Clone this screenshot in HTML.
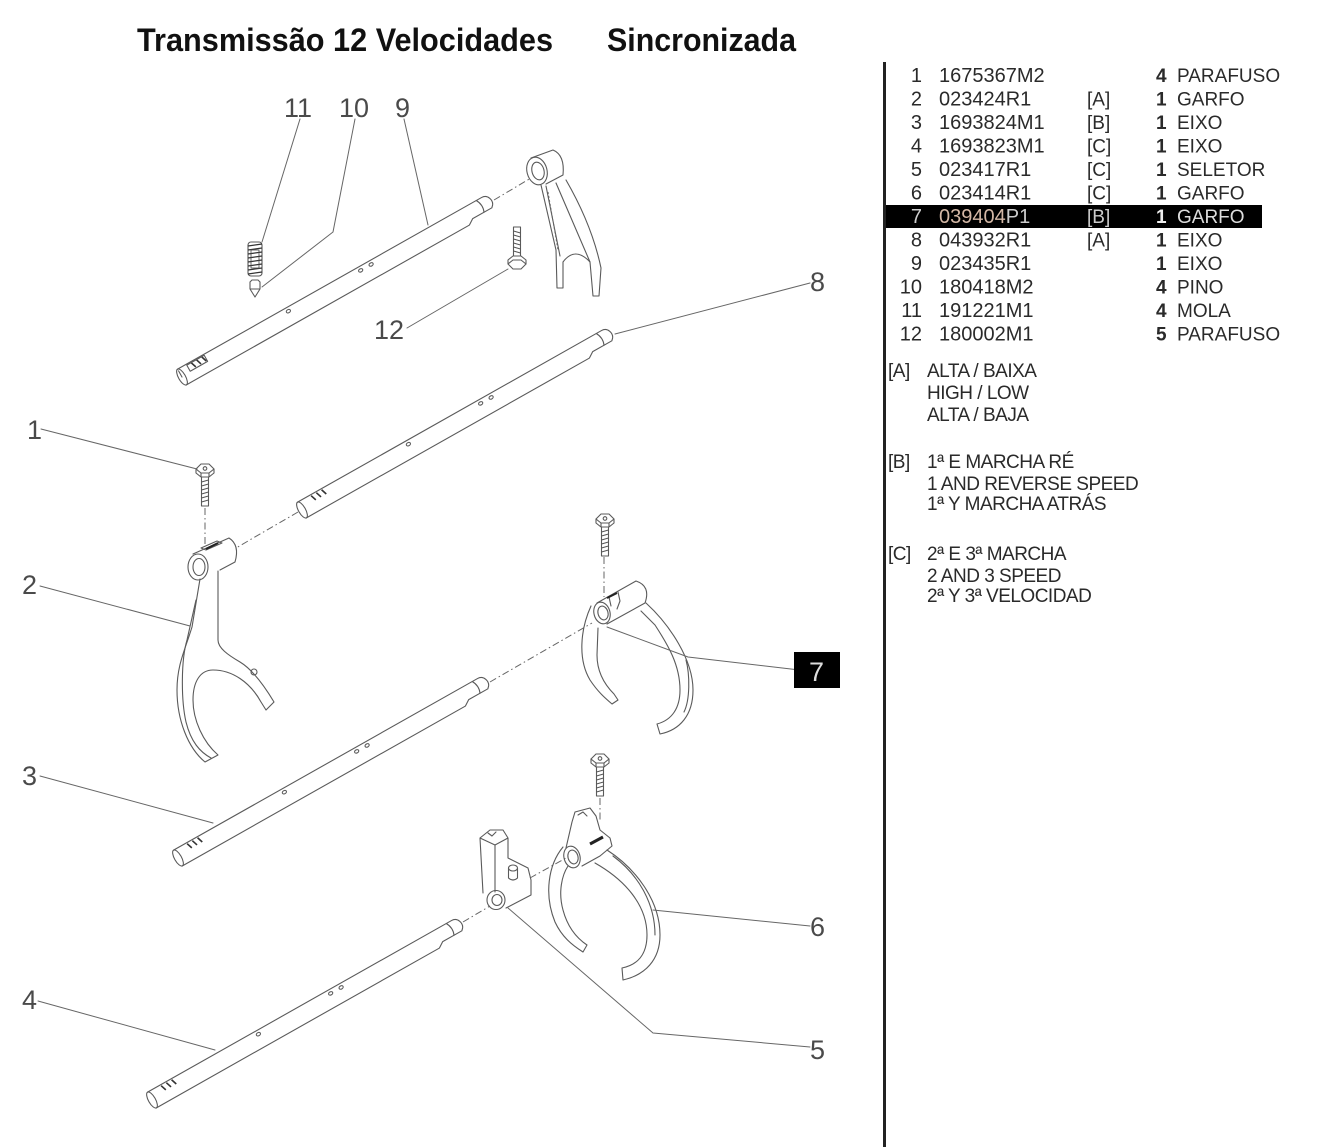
<!DOCTYPE html>
<html><head><meta charset="utf-8">
<style>
html,body{margin:0;padding:0;background:#fff;}
svg{display:block;}
.ln{fill:none;stroke:#5a5a5a;stroke-width:1.1;stroke-linejoin:round;stroke-linecap:round;}
.dd{fill:none;stroke:#666;stroke-width:1;stroke-dasharray:7,3,1.5,3;}
.lbl{font-family:"Liberation Sans",sans-serif;font-size:27px;fill:#4a4a4a;}
.pl{font-family:"Liberation Sans",sans-serif;font-size:20px;fill:#2a2a2a;}
.pd{font-family:"Liberation Sans",sans-serif;font-size:19px;fill:#2a2a2a;}
.lg{font-family:"Liberation Sans",sans-serif;font-size:19px;fill:#2a2a2a;letter-spacing:-0.5px;}
</style></head>
<body>
<svg width="1326" height="1147" viewBox="0 0 1326 1147" xmlns="http://www.w3.org/2000/svg">
<defs>
 <g id="shaft">
  <ellipse cx="0" cy="0" rx="3.5" ry="9" class="ln"/>
  <path class="ln" d="M0,-9 L349,-9 C356,-9 358,-1 355,3 L353,5 L331,5 L325,9 L0,9"/>
  <path class="ln" d="M343,-9 Q347,-2 344,5"/>
  <ellipse cx="125" cy="-5" rx="2.2" ry="1.6" class="ln"/>
  <ellipse cx="208" cy="-5" rx="2.2" ry="1.6" class="ln"/>
  <ellipse cx="220" cy="-5" rx="2.2" ry="1.6" class="ln"/>
  <path d="M15,-8 L17,-2 M21,-8 L23,-2 M27,-8 L29,-2" stroke="#333" stroke-width="1.6" fill="none"/>
 </g>
 <g id="screw">
  <path class="ln" d="M-9,-1 L-4,-6 L4,-6 L9,-1 L4,3 L-4,3 Z"/>
  <path class="ln" d="M-9,-1 L-9,3 L-4,7 L4,7 L9,3 L9,-1 M-4,3 L-4,7 M4,3 L4,7"/>
  <circle cx="0" cy="-1.5" r="1.8" class="ln"/>
  <path class="ln" d="M-3.5,7 L-3.5,36 L3.5,36 L3.5,7"/>
  <path d="M-3.5,12 L3.5,10 M-3.5,16 L3.5,14 M-3.5,20 L3.5,18 M-3.5,24 L3.5,22 M-3.5,28 L3.5,26 M-3.5,32 L3.5,30" stroke="#555" stroke-width="1" fill="none"/>
 </g>
</defs>

<!-- Title -->
<text x="137" y="51" font-family="'Liberation Sans Narrow','Liberation Sans',sans-serif" font-weight="bold" font-size="32" fill="#111" textLength="416" lengthAdjust="spacingAndGlyphs">Transmissão 12 Velocidades</text>
<text x="607" y="51" font-family="'Liberation Sans Narrow','Liberation Sans',sans-serif" font-weight="bold" font-size="32" fill="#111" textLength="189" lengthAdjust="spacingAndGlyphs">Sincronizada</text>

<!-- Divider -->
<rect x="883" y="62" width="3" height="1085" fill="#222"/>

<!-- Highlight row 7 -->
<rect x="886" y="205" width="376" height="23" fill="#000"/>

<!-- Parts list -->
<g class="pl">
 <text x="922" y="82" text-anchor="end">1</text><text x="939" y="82">1675367M2</text>
 <text x="922" y="105.5" text-anchor="end">2</text><text x="939" y="105.5">023424R1</text>
 <text x="922" y="129" text-anchor="end">3</text><text x="939" y="129">1693824M1</text>
 <text x="922" y="152.5" text-anchor="end">4</text><text x="939" y="152.5">1693823M1</text>
 <text x="922" y="176" text-anchor="end">5</text><text x="939" y="176">023417R1</text>
 <text x="922" y="199.5" text-anchor="end">6</text><text x="939" y="199.5">023414R1</text>
 <text x="922" y="223" text-anchor="end" fill="#ccc">7</text><text x="939" y="223"><tspan fill="#d4b8a6">039404</tspan><tspan fill="#ccc">P1</tspan></text>
 <text x="922" y="246.5" text-anchor="end">8</text><text x="939" y="246.5">043932R1</text>
 <text x="922" y="270" text-anchor="end">9</text><text x="939" y="270">023435R1</text>
 <text x="922" y="293.5" text-anchor="end">10</text><text x="939" y="293.5">180418M2</text>
 <text x="922" y="317" text-anchor="end">11</text><text x="939" y="317">191221M1</text>
 <text x="922" y="340.5" text-anchor="end">12</text><text x="939" y="340.5">180002M1</text>
</g>
<g class="pd">
 <text x="1087" y="105.5">[A]</text>
 <text x="1087" y="129">[B]</text>
 <text x="1087" y="152.5">[C]</text>
 <text x="1087" y="176">[C]</text>
 <text x="1087" y="199.5">[C]</text>
 <text x="1087" y="223" fill="#ccc">[B]</text>
 <text x="1087" y="246.5">[A]</text>
</g>
<g class="pd">
 <text x="1156" y="82" font-weight="bold">4</text><text x="1177" y="82">PARAFUSO</text>
 <text x="1156" y="105.5" font-weight="bold">1</text><text x="1177" y="105.5">GARFO</text>
 <text x="1156" y="129" font-weight="bold">1</text><text x="1177" y="129">EIXO</text>
 <text x="1156" y="152.5" font-weight="bold">1</text><text x="1177" y="152.5">EIXO</text>
 <text x="1156" y="176" font-weight="bold">1</text><text x="1177" y="176">SELETOR</text>
 <text x="1156" y="199.5" font-weight="bold">1</text><text x="1177" y="199.5">GARFO</text>
 <text x="1156" y="223" font-weight="bold" fill="#eee">1</text><text x="1177" y="223" fill="#ddd">GARFO</text>
 <text x="1156" y="246.5" font-weight="bold">1</text><text x="1177" y="246.5">EIXO</text>
 <text x="1156" y="270" font-weight="bold">1</text><text x="1177" y="270">EIXO</text>
 <text x="1156" y="293.5" font-weight="bold">4</text><text x="1177" y="293.5">PINO</text>
 <text x="1156" y="317" font-weight="bold">4</text><text x="1177" y="317">MOLA</text>
 <text x="1156" y="340.5" font-weight="bold">5</text><text x="1177" y="340.5">PARAFUSO</text>
</g>

<!-- Legend -->
<g class="lg">
 <text x="888" y="377">[A]</text>
 <text x="927" y="377">ALTA / BAIXA</text>
 <text x="927" y="399">HIGH / LOW</text>
 <text x="927" y="421">ALTA / BAJA</text>
 <text x="888" y="468">[B]</text>
 <text x="927" y="468">1ª E MARCHA RÉ</text>
 <text x="927" y="490">1 AND REVERSE SPEED</text>
 <text x="927" y="510">1ª Y MARCHA ATRÁS</text>
 <text x="888" y="560">[C]</text>
 <text x="927" y="560">2ª E 3ª MARCHA</text>
 <text x="927" y="582">2 AND 3 SPEED</text>
 <text x="927" y="602">2ª Y 3ª VELOCIDAD</text>
</g>

<!-- Shafts -->
<use href="#shaft" transform="translate(182,377) rotate(-29.45)"/>
<path class="ln" d="M0,-7 L0,0" transform="translate(182,377) rotate(-29.45)"/>
<rect x="10" y="-8" width="20" height="7" class="ln" transform="translate(182,377) rotate(-29.45)"/>
<use href="#shaft" transform="translate(302,510) rotate(-29.45)"/>
<use href="#shaft" transform="translate(178,858) rotate(-29.45)"/>
<use href="#shaft" transform="translate(152,1100) rotate(-29.45)"/>

<!-- Dash-dot axis lines -->
<path class="dd" d="M494,200 L531,178"/>
<path class="dd" d="M298,512 L236,548"/>
<path class="dd" d="M490,682 L592,623"/>
<path class="dd" d="M463,922 L490,906"/>
<path class="dd" d="M530,878 L566,858"/>
<path class="dd" d="M205,508 L205,546"/>
<path class="dd" d="M604,557 L604,597"/>
<path class="dd" d="M600,798 L600,822"/>

<!-- Screws -->
<use href="#screw" transform="translate(205,470)"/>
<use href="#screw" transform="translate(605,520)"/>
<use href="#screw" transform="translate(600,760)"/>
<!-- Screw 12 inverted -->
<g transform="translate(517,263) scale(1,-1)">
 <path class="ln" d="M-9,-1 L-4,-6 L4,-6 L9,-1 L4,3 L-4,3 Z"/>
 <path class="ln" d="M-9,-1 L-9,3 L-4,7 L4,7 L9,3 L9,-1"/>
 <path class="ln" d="M-3.5,7 L-3.5,36 L3.5,36 L3.5,7"/>
 <path d="M-3.5,12 L3.5,10 M-3.5,16 L3.5,14 M-3.5,20 L3.5,18 M-3.5,24 L3.5,22 M-3.5,28 L3.5,26 M-3.5,32 L3.5,30" stroke="#555" stroke-width="1" fill="none"/>
</g>

<!-- Spring 11 -->
<g>
 <rect x="248" y="242" width="14" height="34" rx="3" class="ln"/>
 <path d="M248,246 L262,244 M248,250 L262,248 M248,254 L262,252 M248,258 L262,256 M248,262 L262,260 M248,266 L262,264 M248,270 L262,268 M248,274 L262,272" stroke="#333" stroke-width="1.3" fill="none"/>
 <rect x="251" y="250" width="8" height="18" fill="none" stroke="#444" stroke-width="0.8"/>
</g>
<!-- Pin 10 -->
<path class="ln" d="M250,282 L252,280 L258,280 L260,282 L260,289 L255,297 L250,289 Z M250,289 L260,289"/>

<!-- Upper fork (assy 9) -->
<g>
 <ellipse cx="537" cy="171" rx="10" ry="14" transform="rotate(-15 537 171)" class="ln"/>
 <ellipse cx="538" cy="171" rx="6" ry="9" transform="rotate(-15 538 171)" class="ln"/>
 <path class="ln" d="M531,158 L553,150 Q565,155 563,175 L546,184"/>
 <path class="ln" d="M541,185 L556,250 L557,288 L563,288 L563,262 Q575,246 590,262 L593,296 L599,296 L601,268 Q592,225 566,180"/>
 <path class="ln" d="M546,186 L560,256 M556,183 L590,262"/>
 <path d="M548,192 L558,250" stroke="#666" stroke-width="1" stroke-dasharray="2,2" fill="none"/>
</g>

<!-- Fork 2 -->
<g>
 <ellipse cx="198" cy="567" rx="10" ry="13" class="ln"/>
 <ellipse cx="199" cy="567" rx="6" ry="8.5" class="ln"/>
 <path class="ln" d="M193,554 L229,538 Q240,545 235,562 L220,570"/>
 <path class="ln" d="M201,548 L217,541 L222,543 L206,550 Z"/>
 <path d="M206,549 L218,543" stroke="#222" stroke-width="2" fill="none"/>
 <path class="ln" d="M200,579 L192,627 C185,650 177,665 177,690 C177,720 188,748 205,762 L218,755 C203,742 193,720 193,700 C193,682 200,670 213,670 C232,670 250,682 261,702 L266,710 L274,702 C262,682 250,668 240,662 C228,655 218,648 218,640 L218,571"/>
 <path class="ln" d="M196,600 L187,640 C181,660 181,700 186,722 C191,742 200,752 211,758"/>
 <circle cx="254" cy="672" r="3" class="ln"/>
</g>

<!-- Fork 7 -->
<g>
 <ellipse cx="602" cy="613" rx="8" ry="11" transform="rotate(-15 602 613)" class="ln"/>
 <ellipse cx="603" cy="613" rx="5" ry="7" transform="rotate(-15 603 613)" class="ln"/>
 <path class="ln" d="M597,603 L636,581 Q651,586 645,603 L607,624"/>
 <path class="ln" d="M609,597 L611,606 M618,592 L620,601 L617,609" />
 <path d="M607,598 L617,593" stroke="#222" stroke-width="2" fill="none"/>
 <path class="ln" d="M591,606 C580,630 578,660 590,680 C598,692 605,698 612,704 L618,700 L614,694 C603,683 597,670 597,655 L598,628"/>
 <path class="ln" d="M646,603 C670,625 693,660 693,690 C693,715 680,730 660,734 L657,724 C672,720 680,708 680,690 C680,665 668,645 655,625 L641,611"/>
 <path class="ln" d="M686,660 C690,675 690,700 684,712"/>
</g>

<!-- Selector 5 -->
<g>
 <path class="ln" d="M480,838 L483,893 M480,838 L490,830 L503,830 L508,838 L495,845 Z M495,845 L495,892 M508,838 L508,858 L528,868 L531,880 L531,895 L506,908"/>
 <path class="ln" d="M488,833 L492,836 L496,832"/>
 <ellipse cx="496" cy="900" rx="9" ry="9.5" class="ln"/>
 <ellipse cx="497" cy="900" rx="5" ry="5.5" class="ln"/>
 <ellipse cx="513" cy="868" rx="4.5" ry="3" class="ln"/>
 <path class="ln" d="M508.5,868 L508.5,878 Q513,882 517.5,878 L517.5,868"/>
</g>

<!-- Fork 6 -->
<g>
 <ellipse cx="572" cy="857" rx="8" ry="11" transform="rotate(-15 572 857)" class="ln"/>
 <ellipse cx="573" cy="857" rx="5" ry="7" transform="rotate(-15 573 857)" class="ln"/>
 <path class="ln" d="M566,848 L572,822 L575,812 L590,808 L596,816 L600,830 L610,838 L612,846 L600,856 L582,866"/>
 <path class="ln" d="M578,815 L583,812 L587,816"/>
 <path d="M590,844 L603,837" stroke="#222" stroke-width="3" fill="none"/>
 <path class="ln" d="M563,847 C548,865 544,895 555,922 C562,937 572,945 583,952 L587,945 C575,937 567,925 563,910 C558,892 562,875 568,866"/>
 <path class="ln" d="M607,850 C635,868 660,900 660,935 C660,960 645,975 623,980 L622,968 C637,965 647,955 647,935 C647,905 625,880 595,863"/>
 <path class="ln" d="M613,856 C640,876 655,905 655,935"/>
</g>

<!-- Leaders -->
<g class="ln" style="stroke:#666;stroke-width:1">
 <path d="M300,119 L262,242"/>
 <path d="M355,119 L333,232 L262,287"/>
 <path d="M404,119 L428,225"/>
 <path d="M407,328 L508,269"/>
 <path d="M615,334 L810,283"/>
 <path d="M41,429 L197,469"/>
 <path d="M40,586 L190,626"/>
 <path d="M40,776 L213,823"/>
 <path d="M38,1001 L215,1050"/>
 <path d="M607,627 L688,657 L808,671"/>
 <path d="M653,910 L810,926"/>
 <path d="M508,908 L653,1033 L810,1047"/>
</g>

<!-- Labels -->
<g class="lbl">
 <text x="284" y="117">11</text>
 <text x="339" y="117">10</text>
 <text x="395" y="117">9</text>
 <text x="374" y="339">12</text>
 <text x="810" y="291">8</text>
 <text x="27" y="439">1</text>
 <text x="22" y="594">2</text>
 <text x="22" y="785">3</text>
 <text x="22" y="1009">4</text>
 <text x="810" y="936">6</text>
 <text x="810" y="1059">5</text>
</g>
<rect x="794" y="652" width="46" height="36" fill="#000"/>
<text x="809" y="681" class="lbl" style="fill:#ddd">7</text>
</svg>
</body></html>
